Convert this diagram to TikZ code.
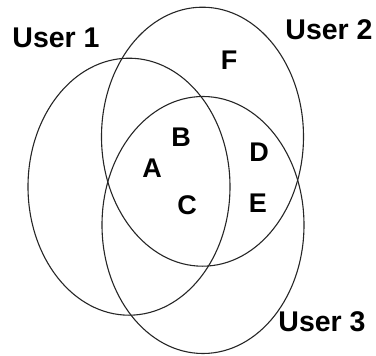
\documentclass[tikz,border=0pt]{standalone}
\usepackage{fontspec}
\setmainfont{Liberation Sans}
\begin{document}
\begin{tikzpicture}[x=1pt,y=-1pt,
  setline/.style={draw=black!85,line width=1.1pt},
  setname/.style={font=\fontsize{28.5}{28.5}\selectfont\bfseries,inner sep=0pt,anchor=center},
  item/.style={font=\fontsize{27}{27}\selectfont\bfseries,inner sep=0pt,anchor=center}]
  \useasboundingbox (0,0) rectangle (376,356);
  % the three user sets
  \draw[setline] (129,186.7) ellipse [x radius=101, y radius=128.5];
  \draw[setline] (202.5,136.7) ellipse [x radius=101, y radius=129.5];
  \draw[setline] (203,225) ellipse [x radius=101, y radius=128.5];
  % set labels
  \node[setname] (u1) at (56,38) {User 1};
  \node[setname] (u2) at (329,30) {User 2};
  \node[setname] (u3) at (322,322) {User 3};
  % items
  \node[item] (a) at (152,168) {A};
  \node[item] (b) at (181,137) {B};
  \node[item] (c) at (187,205) {C};
  \node[item] (d) at (259,152) {D};
  \node[item] (e) at (258,203) {E};
  \node[item] (f) at (229,60) {F};
\end{tikzpicture}
\end{document}
